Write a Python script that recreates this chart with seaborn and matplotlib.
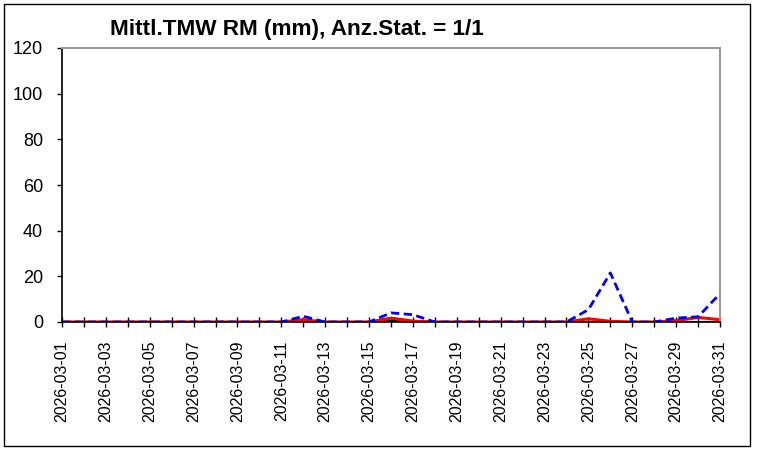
import matplotlib
matplotlib.use("Agg")
import matplotlib.pyplot as plt
import matplotlib.dates as mdates
from matplotlib.patches import Rectangle
import pandas as pd
import seaborn as sns

sns.set_theme(style="white")
plt.rcParams["font.family"] = ["Liberation Sans", "DejaVu Sans"]

days = pd.date_range("2026-03-01", "2026-03-31", freq="D")
rm_min = [0, 0, 0, 0, 0, 0, 0, 0, 0, 0, 0, 0, 0, 0, 0, 0.5, 0, 0, 0, 0,
          0, 0, 0, 0, 0, 0, 0, 0, 0, 0, 0]
rm_mean = [0, 0, 0, 0, 0, 0, 0, 0, 0, 0, 0, 1.0, 0, 0, 0, 1.7, 0.4, 0, 0, 0,
           0, 0, 0, 0, 1.4, 0.3, 0, 0, 0.6, 2.0, 1.0]
rm_max = [0, 0, 0, 0, 0, 0, 0, 0, 0, 0, 0, 2.5, 0, 0, 0, 4.0, 3.2, 0, 0, 0,
          0, 0, 0, 0, 5.4, 21.5, 0, 0, 1.7, 2.3, 12.4]
title = "Mittl.TMW RM (mm), Anz.Stat. = 1/1"

df = pd.DataFrame({"Datum": days, "min": rm_min, "mean": rm_mean, "max": rm_max})

fig = plt.figure(figsize=(7.58, 4.5), dpi=100)
ax = fig.add_axes([62 / 758, 1 - 322 / 450, (720 - 62) / 758, (322 - 48) / 450])

sns.lineplot(data=df, x="Datum", y="min", ax=ax, color="black", linewidth=1.5)
sns.lineplot(data=df, x="Datum", y="mean", ax=ax, color="#ff0000", linewidth=2.2)
sns.lineplot(data=df, x="Datum", y="max", ax=ax, color="#0000ff", linewidth=2.0,
             linestyle=(0, (3, 1.6)))

ax.set_xlim(days[0], days[-1])
ax.set_ylim(0, 120)
ax.set_yticks(range(0, 121, 20))
ax.set_xlabel("")
ax.set_ylabel("")

ax.xaxis.set_major_locator(mdates.DayLocator(bymonthday=range(1, 32, 2)))
ax.xaxis.set_minor_locator(mdates.DayLocator())
ax.xaxis.set_major_formatter(mdates.DateFormatter("%Y-%m-%d"))
ax.tick_params(axis="x", which="both", direction="inout", length=7, width=1,
               color="black", bottom=True)
ax.tick_params(axis="x", which="major", labelsize=11.5, labelrotation=90, pad=10,
               labelcolor="black")
ax.tick_params(axis="y", direction="out", length=3.6, width=1, color="black",
               left=True, labelsize=13, labelcolor="black", pad=10)

for side in ("left", "bottom"):
    ax.spines[side].set_color("black")
    ax.spines[side].set_linewidth(1.2)
for side in ("top", "right"):
    ax.spines[side].set_color("#999999")
    ax.spines[side].set_linewidth(1.5)

fig.text(297 / 758, 1 - 30 / 450, title, ha="center", va="center",
         fontsize=16.2, fontweight="bold", color="black")

fig.patches.append(Rectangle((4 / 758, 4 / 450), 746 / 758, 442 / 450,
                             transform=fig.transFigure, fill=False,
                             edgecolor="black", linewidth=1.0))

fig.savefig("out.png", dpi=100)
